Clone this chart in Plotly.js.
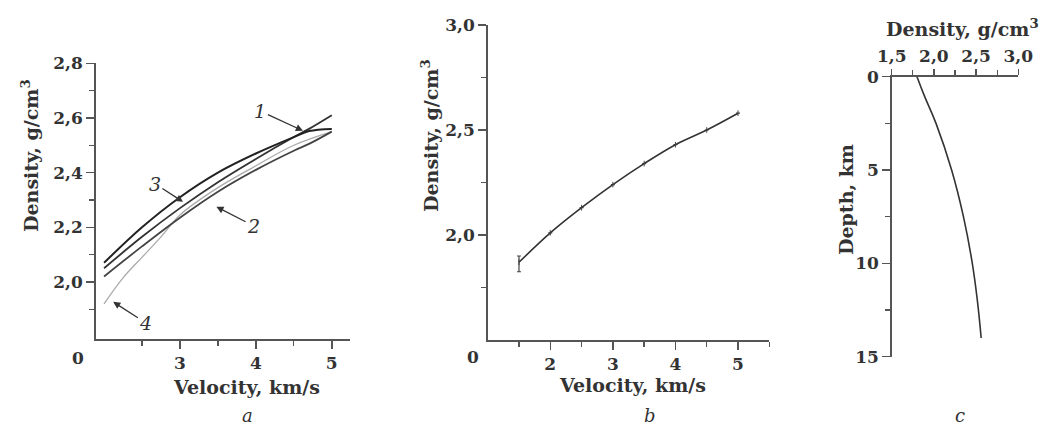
<!DOCTYPE html>
<html>
<head>
<meta charset="utf-8">
<script src="https://cdn.plot.ly/plotly-3.0.1.min.js"></script>
<style>html,body{margin:0;padding:0;background:#fff;}#chart{width:1043px;height:427px;}</style>
</head>
<body>
<div id="chart"></div>
<script>
// Panel a: density vs velocity, four curves
const velA = [2.0, 2.5, 3.0, 3.5, 4.0, 4.5, 4.7, 5.0];
const curve1 = [2.05, 2.165, 2.27, 2.365, 2.45, 2.53, 2.56, 2.61];
const curve2 = [2.02, 2.13, 2.235, 2.33, 2.41, 2.48, 2.505, 2.55];
const curve3 = [2.07, 2.20, 2.31, 2.40, 2.47, 2.53, 2.552, 2.56];
const velA4 = [2.0, 2.25, 2.5, 2.75, 3.0, 3.5, 4.0, 4.5, 5.0];
const curve4 = [1.92, 2.015, 2.09, 2.165, 2.245, 2.345, 2.425, 2.50, 2.55];

// Panel b: averaged relation
const velB = [1.5, 2.0, 2.5, 3.0, 3.5, 4.0, 4.5, 5.0];
const densB = [1.87, 2.01, 2.13, 2.24, 2.34, 2.43, 2.50, 2.58];
const errPlusB = [0.03, 0, 0, 0, 0, 0, 0, 0];
const errMinusB = [0.045, 0, 0, 0, 0, 0, 0, 0];

// Panel c: density vs depth
const depthC = [0, 1, 2.5, 5, 7.5, 10, 12, 14];
const densC = [1.80, 1.885, 2.025, 2.21, 2.35, 2.455, 2.515, 2.56];

// tick values
const xTicksA = [3, 4, 5], xMinorA = [2.5, 3.5, 4.5];
const yTicksA = [2.0, 2.2, 2.4, 2.6, 2.8], yMinorA = [1.9, 2.1, 2.3, 2.5, 2.7];
const xTicksB = [2, 3, 4, 5], xMinorB = [1.5, 2.5, 3.5, 4.5, 5.5];
const yTicksB = [2.0, 2.5, 3.0], yMinorB = [1.75, 2.25, 2.75];
const xTicksC = [1.5, 2.0, 2.5, 3.0], xMinorC = [1.75, 2.25, 2.75];
const yTicksC = [0, 5, 10, 15], yMinorC = [2.5, 7.5, 12.5];

const W = 1043, H = 427;
const px = v => v / W, py = v => 1 - v / H;
const FF = 'DejaVu Serif';
const txt = '#333';

const traces = [
  {x: velA4, y: curve4, xaxis: 'x', yaxis: 'y', mode: 'lines', line: {color: '#aaa', width: 1.3, shape: 'spline'}, hoverinfo: 'skip'},
  {x: velA, y: curve2, xaxis: 'x', yaxis: 'y', mode: 'lines', line: {color: '#444', width: 1.8, shape: 'spline'}, hoverinfo: 'skip'},
  {x: velA, y: curve1, xaxis: 'x', yaxis: 'y', mode: 'lines', line: {color: '#333', width: 1.8, shape: 'spline'}, hoverinfo: 'skip'},
  {x: velA, y: curve3, xaxis: 'x', yaxis: 'y', mode: 'lines', line: {color: '#222', width: 2, shape: 'spline'}, hoverinfo: 'skip'},
  {x: velB, y: densB, xaxis: 'x2', yaxis: 'y2', mode: 'lines+markers',
   line: {color: '#333', width: 1.6, shape: 'spline'}, marker: {symbol: 'line-ns', size: 4, line: {color: '#444', width: 1}},
   error_y: {type: 'data', symmetric: false, array: errPlusB, arrayminus: errMinusB, color: '#444', thickness: 1.2, width: 2},
   hoverinfo: 'skip'},
  {x: densC, y: depthC, xaxis: 'x3', yaxis: 'y3', mode: 'lines', line: {color: '#333', width: 1.6, shape: 'spline', smoothing: 1.2}, hoverinfo: 'skip'}
];

function ax(extra) {
  return Object.assign({
    showline: true, linecolor: '#555', linewidth: 1.5, showgrid: false, zeroline: false,
    ticks: 'outside', ticklen: 8, tickwidth: 1.5, tickcolor: '#555', tickmode: 'array',
    tickfont: {family: FF, size: 17, color: txt, weight: 'bold'}, fixedrange: true
  }, extra);
}
function minor(vals) {
  return {tickmode: 'array', tickvals: vals, ticklen: 5, tickwidth: 1.3, tickcolor: '#555', showgrid: false};
}

const ann = [];
function label(text, x, y, opts) {
  ann.push(Object.assign({text: text, xref: 'paper', yref: 'paper', x: px(x), y: py(y), showarrow: false,
    xanchor: 'center', yanchor: 'middle', font: {family: FF, size: 19, color: txt, weight: 'bold'}}, opts || {}));
}
// axis titles
label('Velocity, km/s', 246, 387);
label('Velocity, km/s', 632, 385);
label('Density, g/cm<sup>3</sup>', 30, 156, {textangle: -90});
label('Density, g/cm<sup>3</sup>', 430, 136, {textangle: -90});
label('Density, g/cm<sup>3</sup>', 962, 28);
label('Depth, km', 846, 200, {textangle: -90});
// origin zeros
label('0', 78, 358, {font: {family: FF, size: 17, color: txt, weight: 'bold'}});
label('0', 473, 357, {font: {family: FF, size: 17, color: txt, weight: 'bold'}});
// panel letters
const italic = {family: FF, size: 18, color: txt, style: 'italic'};
label('a', 247, 415, {font: italic});
label('b', 650, 415, {font: italic});
label('c', 960, 415, {font: italic});

// curve numbers with arrows (panel a, data coords)
function num(t, hx, hy, tx, ty) {
  ann.push({text: t, x: hx, y: hy, ax: tx, ay: ty, xref: 'x', yref: 'y', axref: 'x', ayref: 'y',
    showarrow: true, arrowhead: 2, arrowsize: 1.1, arrowwidth: 1.3, arrowcolor: '#333', standoff: 0,
    font: {family: FF, size: 19, color: txt, style: 'italic'}});
}
num('1', 4.62, 2.553, 4.06, 2.625);
num('3', 3.04, 2.293, 2.67, 2.36);
num('2', 3.48, 2.275, 3.97, 2.205);
num('4', 2.12, 1.927, 2.55, 1.85);

const layout = {
  width: W, height: H, margin: {l: 0, r: 0, t: 0, b: 0},
  paper_bgcolor: '#fff', plot_bgcolor: 'rgba(0,0,0,0)', showlegend: false,
  separators: ', ',
  xaxis: ax({domain: [px(95.7), px(350)], range: [1.89, 5.24], anchor: 'y', tickvals: xTicksA, tickformat: 'd', minor: minor(xMinorA)}),
  yaxis: ax({domain: [py(339.3), py(63.3)], range: [1.79, 2.8], anchor: 'x', tickvals: yTicksA, tickformat: '.1f', minor: minor(yMinorA)}),
  xaxis2: ax({domain: [px(487.7), px(769.3)], range: [1, 5.5], anchor: 'y2', tickvals: xTicksB, tickformat: 'd', minor: minor(xMinorB)}),
  yaxis2: ax({domain: [py(340), py(25)], range: [1.5, 3.0], anchor: 'x2', tickvals: yTicksB, tickformat: '.1f', minor: minor(yMinorB)}),
  xaxis3: ax({domain: [px(891.7), px(1018.3)], range: [1.5, 3.0], anchor: 'y3', side: 'top', tickvals: xTicksC, tickformat: '.1f', minor: minor(xMinorC), ticklen: 6}),
  yaxis3: ax({domain: [py(356.7), py(76.7)], range: [15, 0], anchor: 'x3', tickvals: yTicksC, tickformat: 'd', minor: minor(yMinorC)}),
  annotations: ann
};

Plotly.newPlot('chart', traces, layout, {staticPlot: true, displayModeBar: false});
</script>
</body>
</html>
